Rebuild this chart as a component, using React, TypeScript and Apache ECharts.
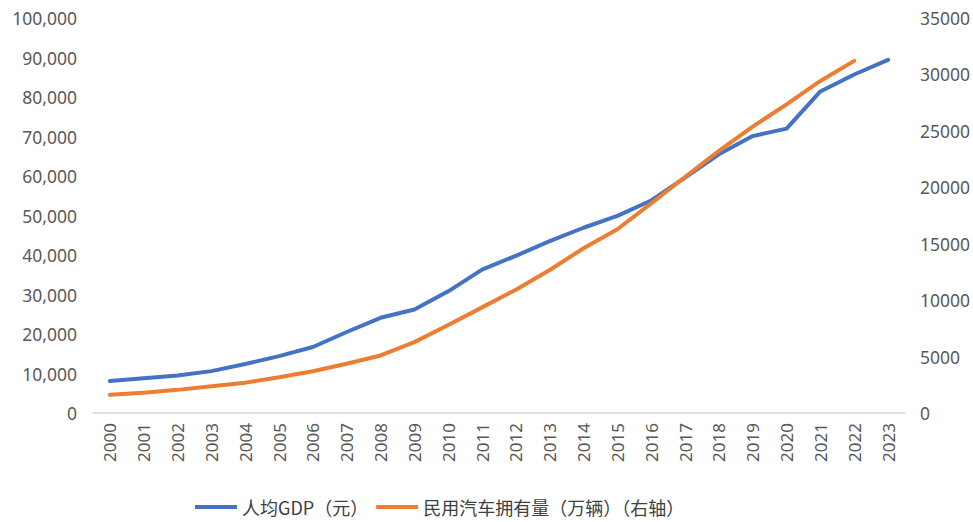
import React, { useEffect, useRef } from "react";
import * as echarts from "echarts";

const years = [
  "2000", "2001", "2002", "2003", "2004", "2005", "2006", "2007", "2008", "2009", "2010", "2011",
  "2012", "2013", "2014", "2015", "2016", "2017", "2018", "2019", "2020", "2021", "2022", "2023",
];
const gdpPerCapita = [
  8100, 8800, 9500, 10600, 12400, 14400, 16700, 20500, 24100, 26200, 30800, 36300,
  39800, 43500, 46900, 49900, 53800, 59600, 65500, 70100, 72000, 81400, 85700, 89400,
];
const carOwnership = [
  1610, 1800, 2050, 2380, 2690, 3160, 3700, 4360, 5100, 6280, 7800, 9360,
  10930, 12670, 14600, 16280, 18580, 20910, 23230, 25380, 27340, 29420, 31200,
];
const leftName = "人均GDP（元）";
const rightName = "民用汽车拥有量（万辆）（右轴）";

export default function App() {
  const ref = useRef<HTMLDivElement>(null);
  useEffect(() => {
    if (!ref.current) return;
    const chart = echarts.init(ref.current, undefined, { renderer: "svg" });
    const labelFont = "Noto Sans";
    chart.setOption({
      animation: false,
      backgroundColor: "#ffffff",
      grid: { left: 93, right: 68, top: 18, bottom: 109, containLabel: false },
      legend: {
        bottom: 1,
        left: 190,
        itemWidth: 42,
        itemHeight: 4,
        itemGap: 8,
        icon: "rect",
        textStyle: { fontFamily: "Noto Sans CJK SC", fontSize: 18, color: "#404040" },
        data: [leftName, rightName],
      },
      xAxis: {
        type: "category",
        data: years,
        boundaryGap: true,
        axisLine: { lineStyle: { color: "#d9d9d9", width: 1.5 } },
        axisTick: { show: false },
        axisLabel: {
          rotate: 90,
          margin: 10,
          interval: 0,
          color: "#595959",
          fontSize: 17,
          fontFamily: labelFont,
        },
      },
      yAxis: [
        {
          type: "value",
          min: 0,
          max: 100000,
          interval: 10000,
          axisLine: { show: false },
          axisTick: { show: false },
          splitLine: { show: false },
          axisLabel: {
            margin: 16,
            color: "#595959",
            fontSize: 17.5,
            fontFamily: labelFont,
            formatter: (v: number) => v.toLocaleString("en-US"),
          },
        },
        {
          type: "value",
          min: 0,
          max: 35000,
          interval: 5000,
          axisLine: { show: false },
          axisTick: { show: false },
          splitLine: { show: false },
          axisLabel: {
            margin: 15,
            color: "#595959",
            fontSize: 17.5,
            fontFamily: labelFont,
            formatter: (v: number) => String(v),
          },
        },
      ],
      series: [
        {
          name: leftName,
          type: "line",
          yAxisIndex: 0,
          data: gdpPerCapita,
          showSymbol: false,
          symbol: "none",
          lineStyle: { color: "#4472C4", width: 4, cap: "round", join: "round" },
          itemStyle: { color: "#4472C4" },
        },
        {
          name: rightName,
          type: "line",
          yAxisIndex: 1,
          data: carOwnership,
          showSymbol: false,
          symbol: "none",
          lineStyle: { color: "#ED7D31", width: 4, cap: "round", join: "round" },
          itemStyle: { color: "#ED7D31" },
        },
      ],
    });
    return () => chart.dispose();
  }, []);
  return (
    <div
      ref={ref}
      style={{ position: "absolute", left: 0, top: 0, width: 973, height: 522 }}
    />
  );
}
